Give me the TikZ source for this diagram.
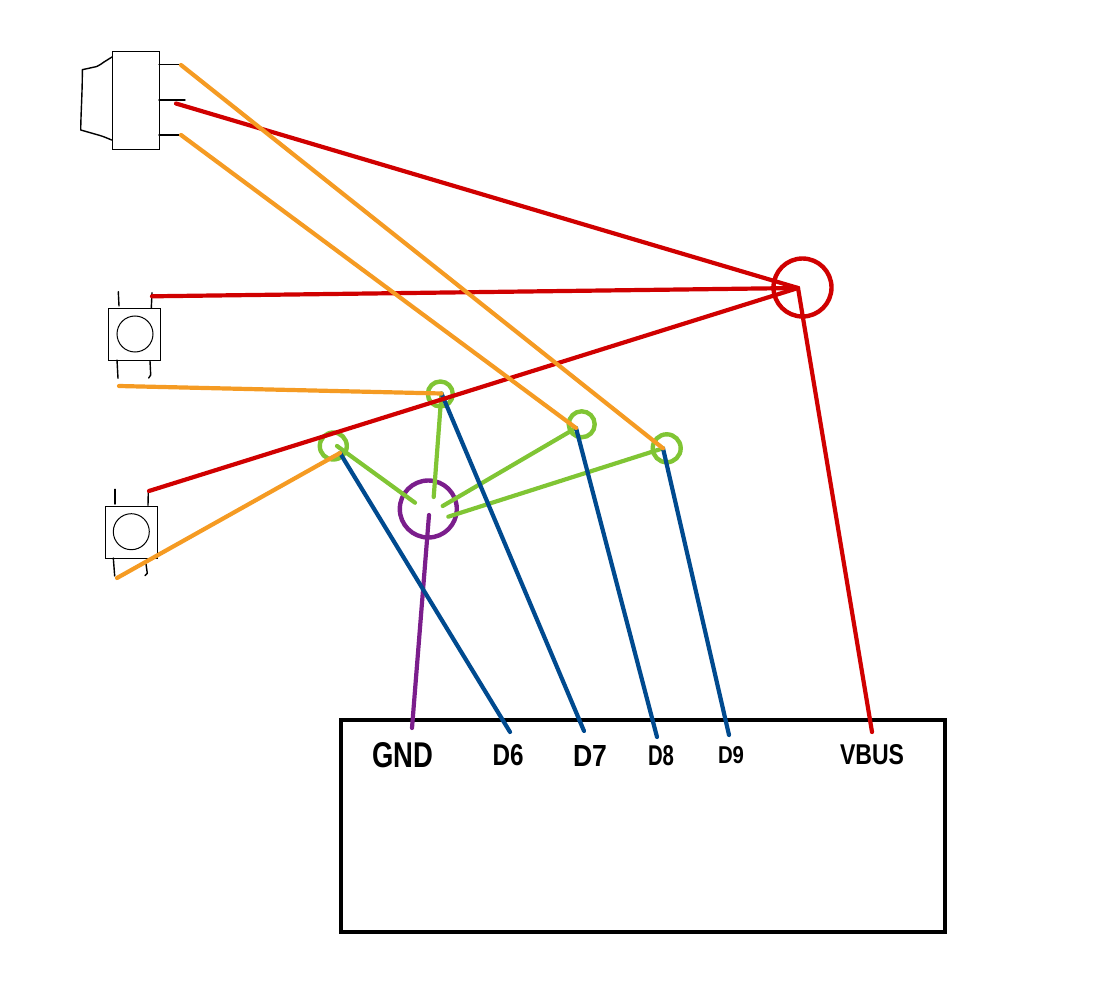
\documentclass[tikz,border=0pt]{standalone}
\usepackage{fontspec}
\setmainfont{Liberation Sans}
\definecolor{wred}{HTML}{D00000}
\definecolor{worange}{HTML}{F59B23}
\definecolor{wgreen}{HTML}{80C534}
\definecolor{wblue}{HTML}{004A8F}
\definecolor{wpurple}{HTML}{7B1E8C}
\tikzset{
  wire/.style={line width=4.2pt,line cap=round,line join=round},
  redwire/.style={wire,draw=wred},
  orangewire/.style={wire,draw=worange},
  greenwire/.style={wire,draw=wgreen},
  bluewire/.style={wire,draw=wblue},
  purplewire/.style={wire,draw=wpurple},
  junction/.style={circle,inner sep=0pt,outer sep=0pt,line width=4.4pt,fill=none},
  part/.style={draw=black,line width=1pt,inner sep=0pt,outer sep=0pt,fill=white},
  ink/.style={draw=black,line width=1.4pt,line cap=round,line join=round},
  pinlabel/.style={inner sep=0pt,outer sep=0pt,text=black,font=\bfseries},
}
\begin{document}
\begin{tikzpicture}[x=1pt,y=-1pt]
\useasboundingbox (0,0) rectangle (1093,1000);
% board
\node[draw=black,line width=4.4pt,inner sep=0pt,outer sep=0pt,minimum width=604pt,minimum height=212pt,anchor=north west] (board) at (341,720) {};
% rocker switch
\node[part,minimum width=47pt,minimum height=98pt,anchor=north west] (switch) at (112,51.5) {};
\draw[ink] (112,57) -- (104,62) .. controls (100,65) and (97,66.5) .. (96,66.7) -- (82.3,69.7) .. controls (82.5,90) and (81,110) .. (80.7,130) -- (100,135.5) .. controls (105,137) and (109,139) .. (111.7,140);
\coordinate (swA) at (181,65);
\coordinate (swB) at (176,103.5);
\coordinate (swC) at (181,135);
\draw[ink] (159,64.5) -- (180,64.5);
\draw[ink] (159,100) -- (185,100);
\draw[ink] (159,135) -- (180,135);
% button 1
\node[part,minimum width=52pt,minimum height=52pt,anchor=north west] (btnone) at (108.5,308.3) {};
\node[circle,part,fill=none,minimum size=36pt] (capone) at (135,334) {};
\draw[ink] (118.3,291.7) -- (119,306);
\draw[ink] (152,292.7) -- (151.3,308);
\draw[ink] (117,360) -- (118,378.3);
\draw[ink] (150,361) -- (150.7,375) -- (148.7,378);
\coordinate (oneR) at (152,296.3);
\coordinate (oneO) at (119,386);
% button 2
\node[part,minimum width=52pt,minimum height=52pt,anchor=north west] (btntwo) at (105,506) {};
\node[circle,part,fill=none,minimum size=36pt] (captwo) at (131.3,531.7) {};
\draw[ink] (115,489.3) -- (115,504);
\draw[ink] (148.3,491.7) -- (148,505.3);
\draw[ink] (113.3,558) -- (114.7,576);
\draw[ink] (146,564) -- (147.3,573.3) -- (145,575.7);
\coordinate (twoR) at (149,491);
\coordinate (twoO) at (117,578);
% junction circles
\node[junction,draw=wgreen,minimum size=27pt] (ja) at (333.3,446) {};
\node[junction,draw=wgreen,minimum size=25pt] (jb) at (440.3,394) {};
\node[junction,draw=wgreen,minimum size=26pt] (jc) at (581.7,424.3) {};
\node[junction,draw=wgreen,minimum size=28pt] (jd) at (666.7,448.3) {};
\node[junction,draw=wpurple,minimum size=57pt] (gndj) at (428.3,509) {};
\node[junction,draw=wred,minimum size=58pt] (vj) at (802.5,287.5) {};
% wire end points
\coordinate (pa) at (337,446);
\coordinate (pa2) at (340,453);
\coordinate (pb) at (441.5,393.5);
\coordinate (pc) at (576,428);
\coordinate (pd) at (663,448.3);
\coordinate (hub) at (798,288);
\coordinate (ga) at (415,502.7);
\coordinate (gb) at (433.7,497);
\coordinate (gc) at (442.7,506);
\coordinate (gd) at (448.3,516.7);
\coordinate (gp) at (429,515);
\coordinate (tgnd) at (412,728);
\coordinate (td6) at (510,732);
\coordinate (td7) at (584,731);
\coordinate (td8) at (657,737);
\coordinate (td9) at (729,735);
\coordinate (tvbus) at (872,732);
% green
\draw[greenwire] (pa) -- (ga);
\draw[greenwire] (pb) -- (gb);
\draw[greenwire] (pc) -- (gc);
\draw[greenwire] (pd) -- (gd);
% purple
\draw[purplewire] (gp) -- (tgnd);
% blue
\draw[bluewire] (pa2) -- (td6);
\draw[bluewire] (pb) -- (td7);
\draw[bluewire] (pc) -- (td8);
\draw[bluewire] (pd) -- (td9);
% red
\draw[redwire] (swB) -- (hub);
\draw[redwire] (oneR) -- (hub);
\draw[redwire] (twoR) -- (hub);
\draw[redwire] (hub) -- (tvbus);
% orange
\draw[orangewire] (swA) -- (pd);
\draw[orangewire] (swC) -- (pc);
\draw[orangewire] (oneO) -- (pb);
\draw[orangewire] (twoO) -- (pa2);
% labels
\node[pinlabel] (lgnd) at (403,755) {\resizebox{61pt}{25pt}{GND}};
\node[pinlabel] (ld6) at (508,755) {\resizebox{31pt}{21pt}{D6}};
\node[pinlabel] (ld7) at (590,756) {\resizebox{34pt}{21pt}{D7}};
\node[pinlabel] (ld8) at (661,756) {\resizebox{26pt}{20pt}{D8}};
\node[pinlabel] (ld9) at (731,755) {\resizebox{26pt}{17pt}{D9}};
\node[pinlabel] (lvbus) at (872,755) {\resizebox{64pt}{20pt}{VBUS}};
\end{tikzpicture}
\end{document}
